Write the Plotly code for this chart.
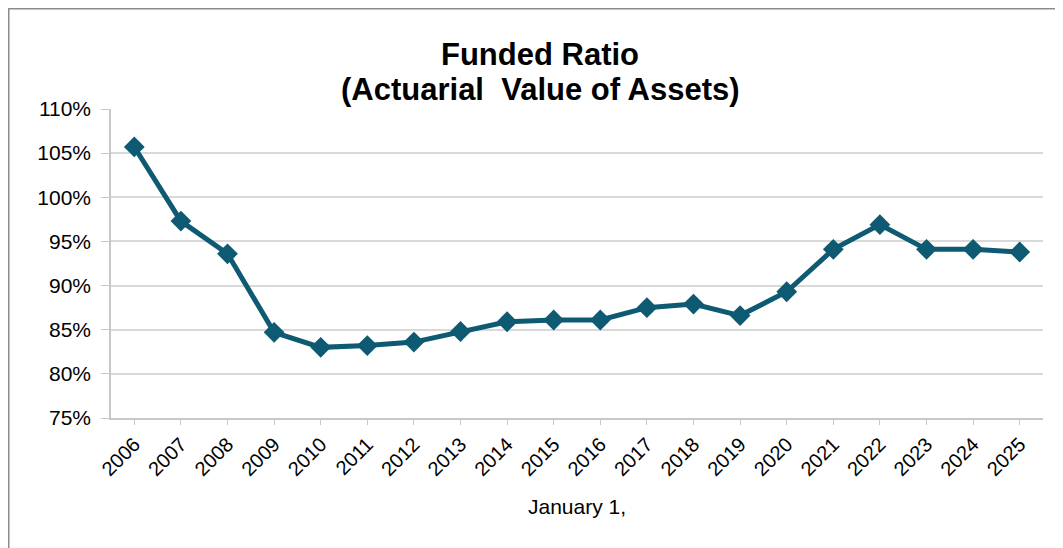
import plotly.graph_objects as go

years = [str(y) for y in range(2006, 2026)]
funded_ratio = [105.7, 97.3, 93.6, 84.7, 83.0, 83.2, 83.6, 84.8, 85.9, 86.1,
                86.1, 87.5, 87.9, 86.6, 89.3, 94.1, 96.9, 94.1, 94.1, 93.8]
y_ticks = [75, 80, 85, 90, 95, 100, 105, 110]
y_labels = [f"{v}%" for v in y_ticks]

FONT = "Liberation Sans, Arial, sans-serif"
LINE = "#0D5A72"

# page body has an 8px margin, so the figure is sized/offset to compensate
W, H = 1055, 540
L, R, T, B = 103, 20, 101, 130
PW, PH = W - L - R, H - T - B

fig = go.Figure(go.Scatter(
    x=years, y=funded_ratio, mode="lines+markers",
    line=dict(color=LINE, width=5),
    marker=dict(symbol="diamond", size=16, color=LINE),
    hoverinfo="x+y"))

fig.update_layout(
    width=W, height=H,
    paper_bgcolor="white", plot_bgcolor="white",
    margin=dict(l=L, r=R, t=T, b=B),
    showlegend=False,
    font=dict(family=FONT, color="black"),
    title=dict(text="<b>Funded Ratio</b>",
               x=532 / W, xanchor="center", y=1 - 46 / H, yanchor="middle",
               font=dict(size=31, family=FONT, color="black")),
    annotations=[dict(text="<b>(Actuarial  Value of Assets)</b>",
                      xref="paper", yref="paper", showarrow=False,
                      x=(532 - L) / PW, y=(PH + T - 81) / PH,
                      xanchor="center", yanchor="middle",
                      font=dict(size=31, family=FONT, color="black"))],
    xaxis=dict(type="category", range=[-0.5, 19.5], tickangle=-45,
               ticks="outside", ticklen=5, tickcolor="#c8c8c8",
               showline=True, linecolor="#c8c8c8", linewidth=1.5,
               showgrid=False, tickfont=dict(size=20),
               title=dict(text="January 1,", font=dict(size=21), standoff=20)),
    yaxis=dict(range=[75, 110], tickvals=y_ticks, ticktext=y_labels,
               ticks="outside", ticklen=8, tickcolor="#c8c8c8",
               showline=True, linecolor="#c8c8c8", linewidth=1.5,
               showgrid=True, gridcolor="#d9d9d9", gridwidth=1.5,
               zeroline=False, tickfont=dict(size=21), ticklabelstandoff=6),
    shapes=[dict(type="rect", xref="paper", yref="paper",
                 x0=(0.75 - L) / PW, x1=(1080 - L) / PW,
                 y0=(PH + T - 560) / PH, y1=(PH + T - 0.75) / PH,
                 line=dict(color="#8c8c8c", width=1.5), layer="below")],
)

fig.write_html("out.html")
